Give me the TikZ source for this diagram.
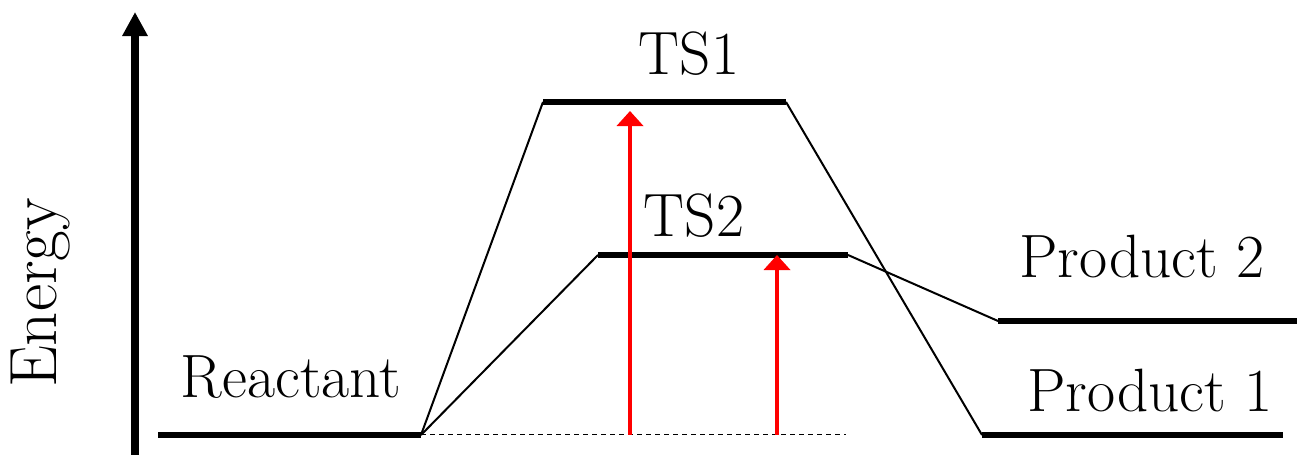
\documentclass[tikz,border=0pt]{standalone}
\usetikzlibrary{arrows.meta}
\begin{document}
\begin{tikzpicture}[x=0.01cm,y=-0.01cm,
  level/.style={line width=0.06cm},
  link/.style={line width=0.02cm},
  ref/.style={line width=0.01cm, dash pattern=on 0.05cm off 0.04cm},
  gap/.style={red, line width=0.04cm, -{Triangle[length=0.15cm,width=0.26cm]}},
  lab/.style={anchor=base, inner sep=0pt, font=\fontsize{17.4}{21}\selectfont}]
\useasboundingbox (0,0) rectangle (1297,455);
% axis
\coordinate (ax0) at (135,455);
\coordinate (ax1) at (135,12);
\draw[line width=0.08cm, -{Triangle[length=0.24cm,width=0.24cm]}] (ax0) -- (ax1);
\node[anchor=base, inner sep=0pt, rotate=90, font=\fontsize{19}{23}\selectfont] (en) at (56,293) {Energy};
% levels
\coordinate (rL) at (158,435); \coordinate (rR) at (421,435);
\coordinate (t1L) at (543,102); \coordinate (t1R) at (786,102);
\coordinate (t2L) at (598,255); \coordinate (t2R) at (848,255);
\coordinate (p2L) at (998,321); \coordinate (p2R) at (1297,321);
\coordinate (p1L) at (982,435); \coordinate (p1R) at (1283,435);
\coordinate (dE) at (846,435);
\draw[level] (rL) -- (rR);
\draw[level] (t1L) -- (t1R);
\draw[level] (t2L) -- (t2R);
\draw[level] (p2L) -- (p2R);
\draw[level] (p1L) -- (p1R);
% connectors
\draw[link] (rR) -- (t1L);
\draw[link] (rR) -- (t2L);
\draw[link] (t1R) -- (p1L);
\draw[link] (t2R) -- (p2L);
\draw[ref] (rR) -- (dE);
% red arrows
\coordinate (a1s) at (630,435); \coordinate (a1e) at (630,111);
\coordinate (a2s) at (777,435); \coordinate (a2e) at (777,255);
\draw[gap] (a1s) -- (a1e);
\draw[gap] (a2s) -- (a2e);
% labels
\node[lab] (ts1) at (689,75) {TS1};
\node[lab] (ts2) at (694,237) {TS2};
\node[lab] (re) at (291,398) {Reactant};
\node[lab] (pr2) at (1142,278) {Product 2};
\node[lab] (pr1) at (1150,412) {Product 1};
\end{tikzpicture}
\end{document}
